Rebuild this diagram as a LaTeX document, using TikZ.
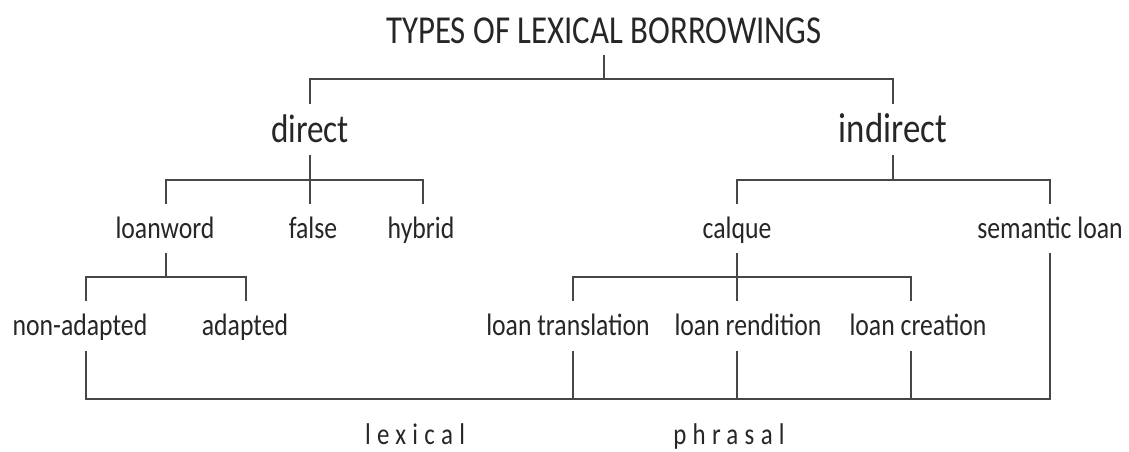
\documentclass[tikz,border=0pt]{standalone}
\usepackage{fontspec}
\setmainfont{Carlito}[FakeStretch=0.83]
\newfontfamily\spacedfont{Carlito}[FakeStretch=0.83,LetterSpace=21]
\begin{document}
\begin{tikzpicture}[x=1pt,y=-1pt,
  ln/.style={draw=black!72, line width=1.7pt},
  lbl/.style={anchor=base, inner sep=0pt, text=black!85},
  lvzero/.style={lbl, font=\fontsize{39.6}{40}\selectfont, text depth=11pt},
  lvone/.style={lbl, font=\fontsize{40}{40}\selectfont, text height=38pt, text depth=13pt},
  lvtwo/.style={lbl, font=\fontsize{31}{31}\selectfont, text height=34pt, text depth=15pt},
  lvthree/.style={lbl, font=\fontsize{31}{31}\selectfont, text height=34pt, text depth=16pt},
  lvfour/.style={lbl, font=\spacedfont\fontsize{30}{30}\selectfont}]
\useasboundingbox (0,0) rectangle (1129,452);
\coordinate (b1) at (0,79);
\coordinate (b2) at (0,180);
\coordinate (b3) at (0,277);
\coordinate (b4) at (0,399);
\node[lvzero] (title) at (604,44) {TYPES OF LEXICAL BORROWINGS};
\node[lvone] (direct) at (310,142) {direct};
\node[lvone] (indirect) at (893,142) {\fontsize{42}{42}\selectfont indirect};
\node[lvtwo] (loanword) at (165,238) {loanword};
\node[lvtwo] (false) at (313,238) {false};
\node[lvtwo] (hybrid) at (421,238) {hybrid};
\node[lvtwo] (calque) at (737,238) {calque};
\node[lvtwo] (semantic) at (1050,238) {semantic loan};
\node[lvthree] (nonad) at (80,335) {non-adapted};
\node[lvthree] (adapted) at (245,335) {adapted};
\node[lvthree] (ltrans) at (568,335) {loan translation};
\node[lvthree] (lrend) at (748,335) {loan rendition};
\node[lvthree] (lcreat) at (918,335) {loan creation};
\node[lvfour] (lexical) at (415,444) {lexical};
\node[lvfour] (phrasal) at (729,444) {phrasal};
% level 0 -> 1
\draw[ln] (title.south) -- (title.south |- b1);
\draw[ln] (direct.north) |- (indirect.north |- b1) -- (indirect.north);
% level 1 -> 2
\draw[ln] (direct.south) -- (direct.south |- b2);
\draw[ln] ([xshift=1pt]loanword.north) |- ([xshift=2pt]hybrid.north |- b2) -- ([xshift=2pt]hybrid.north);
\draw[ln] ([xshift=-3pt]false.north) -- ([xshift=-3pt]false.north |- b2);
\draw[ln] (indirect.south) -- (indirect.south |- b2);
\draw[ln] (calque.north) |- (semantic.north |- b2) -- (semantic.north);
% level 2 -> 3
\draw[ln] ([xshift=1pt]loanword.south) -- ([xshift=1pt]loanword.south |- b3);
\draw[ln] ([xshift=6pt]nonad.north) |- ([xshift=1pt]adapted.north |- b3) -- ([xshift=1pt]adapted.north);
\draw[ln] (calque.south) -- (calque.south |- b3);
\draw[ln] ([xshift=5pt]ltrans.north) |- ([xshift=-7pt]lcreat.north |- b3) -- ([xshift=-7pt]lcreat.north);
\draw[ln] ([xshift=-11pt]lrend.north) -- ([xshift=-11pt]lrend.north |- b3);
% bottom bracket
\draw[ln] ([xshift=6pt]nonad.south) |- (semantic.south |- b4) -- (semantic.south);
\draw[ln] ([xshift=5pt]ltrans.south) -- ([xshift=5pt]ltrans.south |- b4);
\draw[ln] ([xshift=-11pt]lrend.south) -- ([xshift=-11pt]lrend.south |- b4);
\draw[ln] ([xshift=-7pt]lcreat.south) -- ([xshift=-7pt]lcreat.south |- b4);
\end{tikzpicture}
\end{document}
